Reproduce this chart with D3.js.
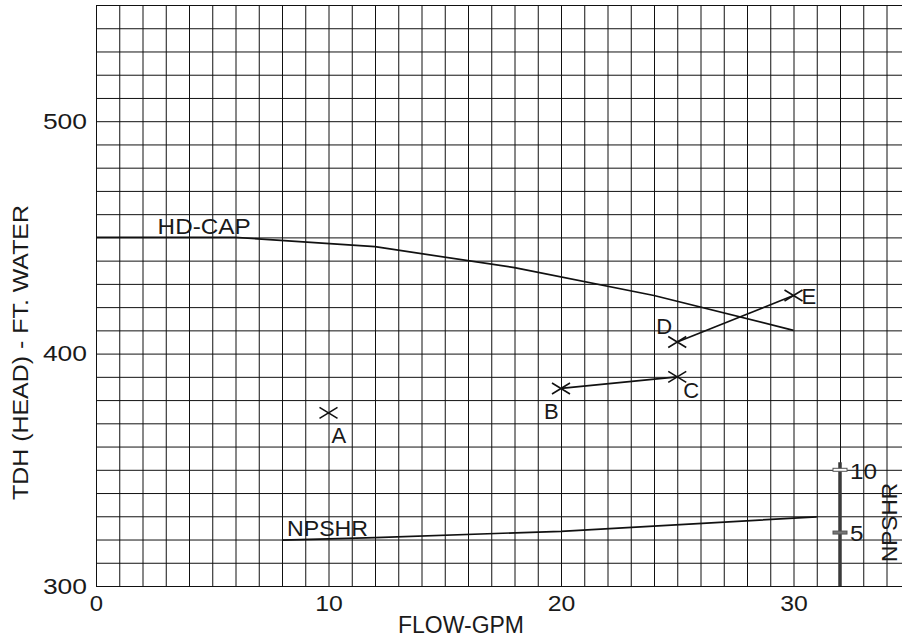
<!DOCTYPE html>
<html>
<head>
<meta charset="utf-8">
<script src="https://cdn.jsdelivr.net/npm/d3@7"></script>
<style>
  html, body { margin: 0; padding: 0; background: #fff; }
  svg { display: block; }
  text { font-family: "Liberation Sans", Arial, Helvetica, sans-serif; fill: #1a1a1a; }
</style>
</head>
<body>
<svg id="chart" width="902" height="639"></svg>
<script>
// ---- data ----
const xTickLabels = [0, 10, 20, 30];
const yTickLabels = [300, 400, 500];
const npshTickLabels = [5, 10];

const hdFlow = [0, 6, 12, 18, 24, 30];
const hdHead = [450, 450, 446, 437, 425, 410];

const npFlow = [8, 12, 20, 31];
const npValue = [4.4, 4.6, 5.1, 6.25];

const pointNames = ["A", "B", "C", "D", "E"];
const pointFlow = [10, 20, 25, 25, 30];
const pointHead = [374.5, 385, 390, 405, 425];
const pointLinks = [["B", "C"], ["D", "E"]];

// ---- layout ----
const svg = d3.select("#chart");
const W = 902;
const x = d3.scaleLinear().domain([0, 35]).range([96, 909.75]);
const y = d3.scaleLinear().domain([300, 550]).range([586, 5]);
const npsh = d3.scaleLinear().domain([5, 10]).range([y(323), y(350)]);
const FS = 22;
const digitW = 14.3;

// grid (vertical)
const gx = svg.append("g").attr("transform", `translate(0,${y(300)})`)
  .call(d3.axisBottom(x).tickValues(d3.range(0, 35, 1)).tickSize(-(y(300) - y(550))).tickFormat(""));
gx.select(".domain").remove();
gx.selectAll("line").attr("stroke", "#111").attr("stroke-width", 1);

// grid (horizontal)
const gy = svg.append("g").attr("transform", `translate(${x(0)},0)`)
  .call(d3.axisLeft(y).tickValues(d3.range(300, 551, 10)).tickSize(-(W - x(0))).tickFormat(""));
gy.select(".domain").remove();
gy.selectAll("line").attr("stroke", "#111").attr("stroke-width", 1);

// tick labels
const lx = svg.append("g").attr("transform", `translate(0,${y(300)})`)
  .call(d3.axisBottom(x).tickValues(xTickLabels).tickSize(0).tickPadding(9.5).tickFormat(d3.format("d")));
lx.select(".domain").remove();
lx.selectAll("text").attr("font-size", FS).attr("fill", "#1a1a1a")
  .attr("textLength", d => String(d).length * digitW - 1).attr("lengthAdjust", "spacingAndGlyphs");

const ly = svg.append("g").attr("transform", `translate(${x(0)},0)`)
  .call(d3.axisLeft(y).tickValues(yTickLabels).tickSize(0).tickPadding(9).tickFormat(d3.format("d")));
ly.select(".domain").remove();
ly.selectAll("text").attr("font-size", FS).attr("fill", "#1a1a1a")
  .attr("textLength", d => String(d).length * 14.7).attr("lengthAdjust", "spacingAndGlyphs");

// axis titles
svg.append("text").attr("x", 461).attr("y", 633).attr("text-anchor", "middle")
  .attr("font-size", 23).attr("textLength", 126).attr("lengthAdjust", "spacingAndGlyphs")
  .text("FLOW-GPM");
svg.append("text").attr("transform", "translate(28,352.5) rotate(-90)").attr("text-anchor", "middle")
  .attr("font-size", 21.5).attr("textLength", 295).attr("lengthAdjust", "spacingAndGlyphs")
  .text("TDH (HEAD) - FT. WATER");

// HD-CAP curve
const line = d3.line().x(d => x(d[0])).y(d => y(d[1]));
svg.append("path").datum(hdFlow.map((f, i) => [f, hdHead[i]]))
  .attr("d", line).attr("fill", "none").attr("stroke", "#111").attr("stroke-width", 1.7);
svg.append("text").attr("x", x(2.65)).attr("y", y(450) - 3)
  .attr("font-size", FS).attr("textLength", 93).attr("lengthAdjust", "spacingAndGlyphs").text("HD-CAP");

// NPSHR curve
const npLine = d3.line().x(d => x(d[0])).y(d => npsh(d[1]));
svg.append("path").datum(npFlow.map((f, i) => [f, npValue[i]]))
  .attr("d", npLine).attr("fill", "none").attr("stroke", "#111").attr("stroke-width", 1.7);
svg.append("text").attr("x", 287).attr("y", 536)
  .attr("font-size", FS).attr("textLength", 81).attr("lengthAdjust", "spacingAndGlyphs").text("NPSHR");

// NPSHR axis
const ax = x(32);
svg.append("line").attr("x1", ax).attr("x2", ax).attr("y1", y(300)).attr("y2", npsh(10.6))
  .attr("stroke", "#3a3a3a").attr("stroke-width", 3.5);
svg.selectAll("rect.ntick").data(npshTickLabels).enter().append("rect")
  .attr("x", ax - 7).attr("y", d => npsh(d) - 1.5).attr("width", 14).attr("height", 3)
  .attr("fill", d => d === 10 ? "#fff" : "#777").attr("stroke", "#555").attr("stroke-width", 1);
const ln = svg.append("g").attr("transform", `translate(${ax},0)`)
  .call(d3.axisRight(npsh).tickValues(npshTickLabels).tickSize(0).tickPadding(10).tickFormat(d3.format("d")));
ln.select(".domain").remove();
ln.selectAll("text").attr("font-size", FS).attr("fill", "#1a1a1a").attr("dy", "0.38em")
  .attr("textLength", d => String(d).length * 13.5).attr("lengthAdjust", "spacingAndGlyphs");
svg.append("text").attr("transform", "translate(896.5,522.5) rotate(-90)").attr("text-anchor", "middle")
  .attr("font-size", FS).attr("textLength", 79).attr("lengthAdjust", "spacingAndGlyphs").text("NPSHR");

// points
const pts = pointNames.map((n, i) => ({ name: n, flow: pointFlow[i], head: pointHead[i] }));
const byName = Object.fromEntries(pts.map(p => [p.name, p]));
svg.selectAll("line.link").data(pointLinks).enter().append("line")
  .attr("x1", d => x(byName[d[0]].flow)).attr("y1", d => y(byName[d[0]].head))
  .attr("x2", d => x(byName[d[1]].flow)).attr("y2", d => y(byName[d[1]].head))
  .attr("stroke", "#111").attr("stroke-width", 1.7);
svg.selectAll("path.mark").data(pts).enter().append("path")
  .attr("transform", d => `translate(${x(d.flow)},${y(d.head)})`)
  .attr("d", "M-9,-5.5L9,5.5M-9,5.5L9,-5.5")
  .attr("stroke", "#111").attr("stroke-width", 1.6).attr("fill", "none");
const labelOffset = { A: [3, 30], B: [-17, 31], C: [6, 21], D: [-21, -8], E: [8, 8] };
svg.selectAll("text.plabel").data(pts).enter().append("text")
  .attr("x", d => x(d.flow) + labelOffset[d.name][0])
  .attr("y", d => y(d.head) + labelOffset[d.name][1])
  .attr("font-size", FS).text(d => d.name);
</script>
</body>
</html>
